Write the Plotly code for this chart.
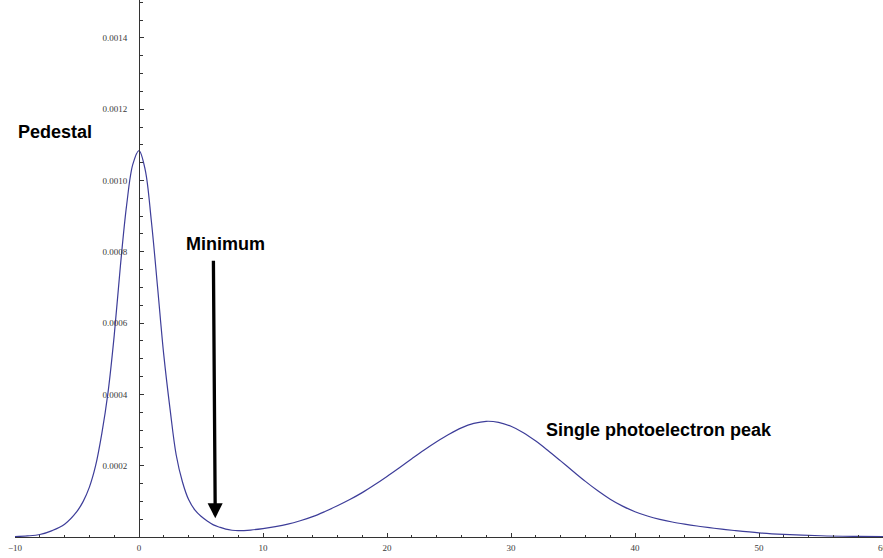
import plotly.graph_objects as go

# Curve values
x_vals = [-10, -9, -8, -7, -6, -5, -4.5, -4, -3.5, -3, -2.5, -2, -1.5, -1, -0.5, 0,
          0.5, 1, 1.5, 2, 2.5, 3, 3.5, 4, 4.5, 5, 5.5, 6, 6.5, 7, 7.5, 8, 9, 10,
          11, 12, 13, 14, 15, 16, 17, 18, 19, 20, 21, 22, 23, 24, 25, 26, 27, 28,
          29, 30, 31, 32, 33, 34, 35, 36, 37, 38, 39, 40, 41, 42, 43, 44, 45, 46,
          47, 48, 50, 52, 55, 58, 60]
y_vals = [1.0e-6, 3.0e-6, 7.0e-6, 1.8e-5, 3.6e-5, 7.2e-5, 1.0e-4, 1.4e-4, 2.0e-4, 2.9e-4,
          4.05e-4, 5.65e-4, 7.6e-4, 9.3e-4, 1.045e-3, 1.084e-3,
          1.03e-3, 8.85e-4, 7.0e-4, 5.1e-4, 3.6e-4, 2.3e-4, 1.55e-4, 1.05e-4, 7.6e-5, 5.8e-5,
          4.5e-5, 3.4e-5, 2.75e-5, 2.2e-5, 1.9e-5, 1.78e-5, 1.95e-5, 2.35e-5,
          2.9e-5, 3.6e-5, 4.55e-5, 5.7e-5, 7.15e-5, 8.75e-5, 1.05e-4, 1.245e-4, 1.465e-4, 1.70e-4,
          1.945e-4, 2.195e-4, 2.44e-4, 2.67e-4, 2.88e-4, 3.06e-4, 3.185e-4, 3.245e-4,
          3.215e-4, 3.105e-4, 2.925e-4, 2.69e-4, 2.42e-4, 2.135e-4, 1.845e-4, 1.56e-4, 1.295e-4,
          1.06e-4, 8.65e-5, 7.1e-5, 5.9e-5, 4.95e-5, 4.2e-5, 3.6e-5, 3.08e-5, 2.62e-5,
          2.2e-5, 1.82e-5, 1.17e-5, 7.5e-6, 3.5e-6, 1.8e-6, 1.2e-6]

x_ticks = [-10, 0, 10, 20, 30, 40, 50]
x_ticktext = ["\u221210", "0", "10", "20", "30", "40", "50"]
x_edge_tick = 60
y_ticks = [0.0002, 0.0004, 0.0006, 0.0008, 0.0010, 0.0012, 0.0014]
y_ticktext = ["0.0002", "0.0004", "0.0006", "0.0008", "0.0010", "0.0012", "0.0014"]

labels = ["Pedestal", "Minimum", "Single photoelectron peak"]
label_x = [-6.75, 6.95, 32.7]
label_y = [0.001137, 0.000822, 0.000300]
label_anchor = ["center", "center", "left"]

arrow_start = (6.0, 0.000779)
arrow_tip = (6.15, 0.0000525)

line_color = "#3d3d99"
axis_color = "#333333"
tick_font = dict(family="Liberation Serif, Times New Roman, serif", size=9, color="#3a3a3a")

fig = go.Figure()
fig.add_trace(go.Scatter(x=x_vals, y=y_vals, mode="lines",
                         line=dict(color=line_color, width=1.2, shape="spline", smoothing=1.0),
                         hoverinfo="skip", showlegend=False))

fig.update_layout(
    width=883, height=558,
    margin=dict(l=15, r=0, t=0, b=21),
    paper_bgcolor="white", plot_bgcolor="white",
    showlegend=False,
    xaxis=dict(range=[-10, 60], showgrid=False, zeroline=False,
               showline=True, linecolor=axis_color, linewidth=1,
               tickmode="array", tickvals=x_ticks + [x_edge_tick], ticktext=x_ticktext + [""],
               ticks="inside", ticklen=4, tickcolor=axis_color, tickwidth=1,
               tickfont=tick_font, ticklabelstandoff=2, automargin=False,
               minor=dict(tickmode="linear", tick0=0, dtick=2, ticks="inside",
                          ticklen=2.5, tickcolor=axis_color, tickwidth=1, showgrid=False)),
    yaxis=dict(range=[0, 0.0015063], showgrid=False, zeroline=False,
               showline=True, linecolor=axis_color, linewidth=1,
               anchor="free", position=10 / 70,
               tickmode="array", tickvals=y_ticks, ticktext=y_ticktext,
               ticks="inside", ticklen=4, tickcolor=axis_color, tickwidth=1,
               tickfont=tick_font, ticklabelstandoff=10, automargin=False,
               minor=dict(tickmode="linear", tick0=0, dtick=0.00005, ticks="inside",
                          ticklen=2.5, tickcolor=axis_color, tickwidth=1, showgrid=False)),
)

# the rightmost tick label, cut by the page edge as in the reference
fig.add_annotation(x=x_edge_tick, y=0, xref="x", yref="paper", text=str(x_edge_tick),
                   showarrow=False, xanchor="center", yanchor="top", yshift=-4,
                   font=tick_font)

for t, lx, ly, anc in zip(labels, label_x, label_y, label_anchor):
    fig.add_annotation(x=lx, y=ly, xref="x", yref="y", text="<b>" + t + "</b>",
                       showarrow=False, xanchor=anc, yanchor="middle",
                       font=dict(family="Liberation Sans, Arial, sans-serif", size=18, color="black"))

fig.add_annotation(x=arrow_tip[0], y=arrow_tip[1], ax=arrow_start[0], ay=arrow_start[1],
                   xref="x", yref="y", axref="x", ayref="y", text="",
                   showarrow=True, arrowhead=2, arrowwidth=3.3, arrowsize=0.91,
                   arrowcolor="black", standoff=0)

fig.write_html("out.html")
